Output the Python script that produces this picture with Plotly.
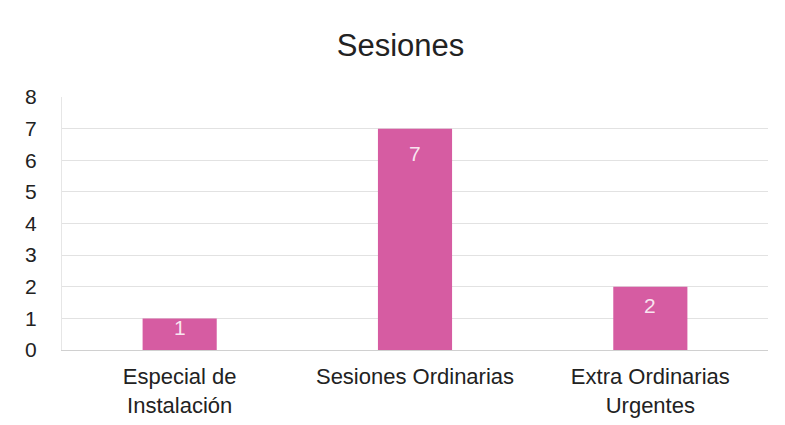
import plotly.graph_objects as go

categories = ["Especial de<br>Instalación", "Sesiones Ordinarias", "Extra Ordinarias<br>Urgentes"]
values = [1, 7, 2]
y_ticks = [0, 1, 2, 3, 4, 5, 6, 7, 8]

fig = go.Figure(go.Bar(
    x=categories, y=values, width=0.315,
    marker=dict(color="#d65ca2", line=dict(width=0)),
    hoverinfo="x+y",
))

# data labels placed just inside the top of each bar
for c, v in zip(categories, values):
    fig.add_annotation(x=c, y=max(v - 0.78, v * 0.7), text=str(v), showarrow=False,
                       xref="x", yref="y", yanchor="middle",
                       font=dict(color="rgba(255,255,255,0.85)", size=21, family="Liberation Sans"))

fig.update_layout(
    width=785, height=425,
    margin=dict(l=54, r=25, t=89, b=83),
    paper_bgcolor="white", plot_bgcolor="white",
    title=dict(text="Sesiones", x=0.5, xanchor="center", y=0.913, yanchor="middle",
               font=dict(size=31, color="#222222", family="Liberation Sans")),
    font=dict(family="Liberation Sans", color="#222222"),
    showlegend=False,
)
fig.update_xaxes(tickfont=dict(size=22), showline=True, linecolor="#d0d0d0", ticks="", showgrid=False,
                 ticklabelstandoff=7, automargin=False)
fig.update_yaxes(range=[0, 8], tickvals=y_ticks, tickfont=dict(size=21), gridcolor="#e2e2e2",
                 zeroline=False, showline=True, linecolor="#e6e6e6", ticklabelstandoff=20, automargin=False)

fig.write_html("out.html")
